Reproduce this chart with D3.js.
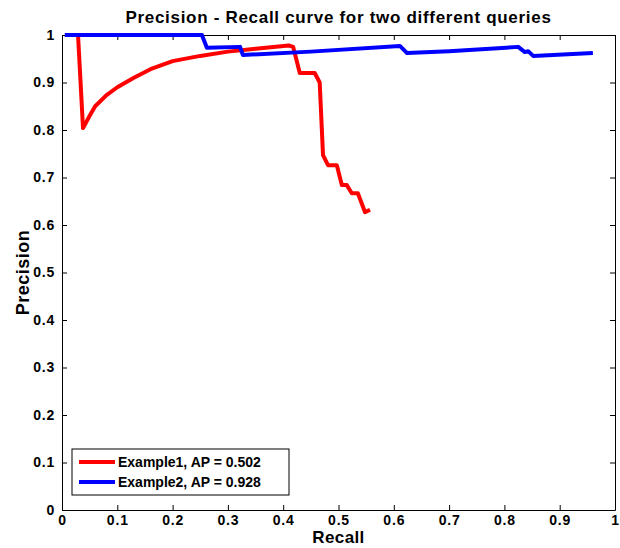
<!DOCTYPE html>
<html>
<head>
<meta charset="utf-8">
<script src="https://cdn.jsdelivr.net/npm/d3@7"></script>
<style>
  body { margin: 0; background: #fff; }
  text { font-family: Arial, "Liberation Sans", Helvetica, sans-serif; font-weight: bold; }
</style>
</head>
<body>
<svg width="620" height="548"></svg>
<script>
// recall / precision
const recall1 = [0.029, 0.038, 0.05, 0.06, 0.08, 0.1, 0.13, 0.16, 0.2, 0.25, 0.3, 0.35, 0.41, 0.418, 0.43, 0.457, 0.466, 0.472, 0.481, 0.497, 0.506, 0.515, 0.524, 0.535, 0.548, 0.557];
const precision1 = [1.0, 0.804, 0.83, 0.85, 0.873, 0.89, 0.91, 0.928, 0.945, 0.956, 0.965, 0.971, 0.978, 0.975, 0.92, 0.92, 0.90, 0.747, 0.726, 0.726, 0.684, 0.684, 0.667, 0.667, 0.627, 0.632];
const recall2 = [0.005, 0.253, 0.262, 0.322, 0.327, 0.45, 0.611, 0.624, 0.70, 0.825, 0.837, 0.843, 0.852, 0.96];
const precision2 = [1.0, 1.0, 0.973, 0.975, 0.958, 0.965, 0.977, 0.962, 0.966, 0.975, 0.964, 0.966, 0.956, 0.962];
const seriesNames = ['Example1, AP = 0.502', 'Example2, AP = 0.928'];
const seriesColors = ['#ff0000', '#0000ff'];
const xTicks = [0, 0.1, 0.2, 0.3, 0.4, 0.5, 0.6, 0.7, 0.8, 0.9, 1];
const yTicks = [0, 0.1, 0.2, 0.3, 0.4, 0.5, 0.6, 0.7, 0.8, 0.9, 1];

const margin = { left: 62, right: 5, top: 35, bottom: 38 };
const W = 620, H = 548;
const svg = d3.select('svg');

let x = d3.scaleLinear().domain([0, 1]).range([margin.left, W - margin.right]);
let y = d3.scaleLinear().domain([0, 1]).range([H - margin.bottom, margin.top]);

// box + ticks (inward, all four sides)
const fmt = d => d === 0 ? '0' : d === 1 ? '1' : d3.format('.1f')(d);
let ax = svg.append('g').attr('class', 'axes');

ax.append('g').attr('transform', `translate(0,${y(0)})`)
    .call(d3.axisBottom(x).tickValues(xTicks).tickSizeInner(-5).tickSizeOuter(0).tickPadding(5).tickFormat(fmt));
ax.append('g').attr('transform', `translate(0,${y(1)})`)
    .call(d3.axisTop(x).tickValues(xTicks).tickSizeInner(-5).tickSizeOuter(0).tickFormat(''));
ax.append('g').attr('transform', `translate(${x(0)},0)`)
    .call(d3.axisLeft(y).tickValues(yTicks).tickSizeInner(-5).tickSizeOuter(0).tickPadding(7).tickFormat(fmt));
ax.append('g').attr('transform', `translate(${x(1)},0)`)
    .call(d3.axisRight(y).tickValues(yTicks).tickSizeInner(-5).tickSizeOuter(0).tickFormat(''));

ax.selectAll('.domain').attr('stroke', '#000').attr('stroke-width', 1);
ax.selectAll('.tick line').attr('stroke', '#000');
ax.selectAll('.tick text').attr('font-size', 14).attr('fill', '#000')
    .attr('letter-spacing', 0.8)
    .style('font-family', 'Arial, "Liberation Sans", sans-serif').style('font-weight', 'bold');

// curves
let line = d3.line().x(d => x(d[0])).y(d => y(d[1]));
let series = [
    d3.zip(recall1, precision1),
    d3.zip(recall2, precision2)
];
svg.append('g').selectAll('path')
    .data(series)
    .enter()
    .append('path')
    .attr('d', line)
    .attr('fill', 'none')
    .attr('stroke', (d, i) => seriesColors[i])
    .attr('stroke-width', 4)
    .attr('stroke-linejoin', 'round');

// title and axis labels
svg.append('text')
    .attr('x', (x(0) + x(1)) / 2).attr('y', 23)
    .attr('text-anchor', 'middle').attr('font-size', 17)
    .attr('letter-spacing', 0.7)
    .text('Precision - Recall curve for two different queries');

svg.append('text')
    .attr('x', (x(0) + x(1)) / 2).attr('y', 543)
    .attr('text-anchor', 'middle').attr('font-size', 17)
    .attr('letter-spacing', 0.4)
    .text('Recall');

svg.append('text')
    .attr('transform', `translate(29,${(y(0) + y(1)) / 2}) rotate(-90)`)
    .attr('text-anchor', 'middle').attr('font-size', 18)
    .attr('letter-spacing', 0.5)
    .text('Precision');

// legend
let legend = svg.append('g').attr('transform', 'translate(72,449)');
legend.append('rect')
    .attr('width', 217).attr('height', 46)
    .attr('fill', '#fff').attr('stroke', '#000').attr('stroke-width', 1);
let rows = legend.selectAll('g.row')
    .data(seriesNames)
    .enter()
    .append('g')
    .attr('class', 'row')
    .attr('transform', (d, i) => `translate(0,${13 + i * 20})`);
rows.append('line')
    .attr('x1', 7).attr('x2', 43)
    .attr('stroke', (d, i) => seriesColors[i])
    .attr('stroke-width', 4);
rows.append('text')
    .attr('x', 46).attr('dy', 5)
    .attr('font-size', 14)
    .text(d => d);
</script>
</body>
</html>
